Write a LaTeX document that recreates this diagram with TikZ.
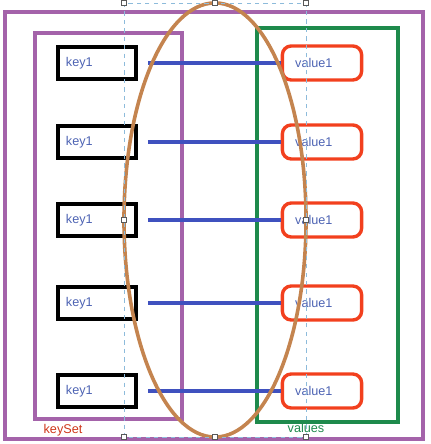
\documentclass[tikz,border=0pt]{standalone}
\usepackage{fontspec}
\setmainfont{Liberation Sans}
\usetikzlibrary{shapes}

\definecolor{setpurple}{HTML}{A463AA}
\definecolor{valgreen}{HTML}{1E8A4C}
\definecolor{valred}{HTML}{F2401E}
\definecolor{linkblue}{HTML}{3F51BF}
\definecolor{txtblue}{HTML}{4D63B3}
\definecolor{ovalbrown}{HTML}{C4844F}
\definecolor{selblue}{HTML}{8DBBDB}

\begin{document}
\begin{tikzpicture}[
    x=0.025cm, y=-0.025cm,
    keybox/.style={draw=black, line width=1mm, minimum width=1.95cm, minimum height=0.8cm,
        inner xsep=0.2cm, text width=1.55cm, align=left, font=\small, text=txtblue},
    valbox/.style={draw=valred, line width=0.85mm, rounded corners=0.22cm, minimum width=1.98cm,
        minimum height=0.85cm, inner xsep=0.32cm, text width=1.34cm, align=left, font=\small, text=txtblue},
    link/.style={draw=linkblue, line width=1mm, shorten <=7pt},
    frame/.style={line width=1mm},
    handle/.style={draw=gray!70!black, fill=white, line width=0.3pt, minimum size=3.5pt, inner sep=0pt}
]
    \useasboundingbox (0,0) rectangle (430,444);

    % sets
    \draw[frame, setpurple] (5,12) rectangle (423,439);
    \draw[frame, setpurple] (35,33) rectangle (182,419);
    \draw[frame, valgreen] (257,28) rectangle (398,422);
    \node[font=\small, text=valred!85!black] (keyset) at (63,430) {keySet};
    \node[font=\small, text=valgreen] (vals) at (306,428) {values};

    % entries
    \foreach \i/\y in {1/63,2/142,3/220,4/303,5/391} {
        \node[keybox] (k\i) at (97,\y) {key1};
        \node[valbox] (v\i) at (322,\y) {value1};
        \draw[link] (k\i.east) -- (v\i.west);
    }

    % entrySet oval and its selection frame
    \node[draw=ovalbrown, line width=0.9mm, ellipse, minimum width=4.55cm, minimum height=10.85cm,
        inner sep=0pt] (oval) at (215,220) {};
    \draw[selblue, dashed, line width=0.5pt] (124,3) rectangle (306,437);
    \foreach \hx/\hy in {124/3,215/3,306/3,124/220,306/220,124/437,215/437,306/437}
        \node[handle] (h\hx-\hy) at (\hx,\hy) {};
\end{tikzpicture}
\end{document}
